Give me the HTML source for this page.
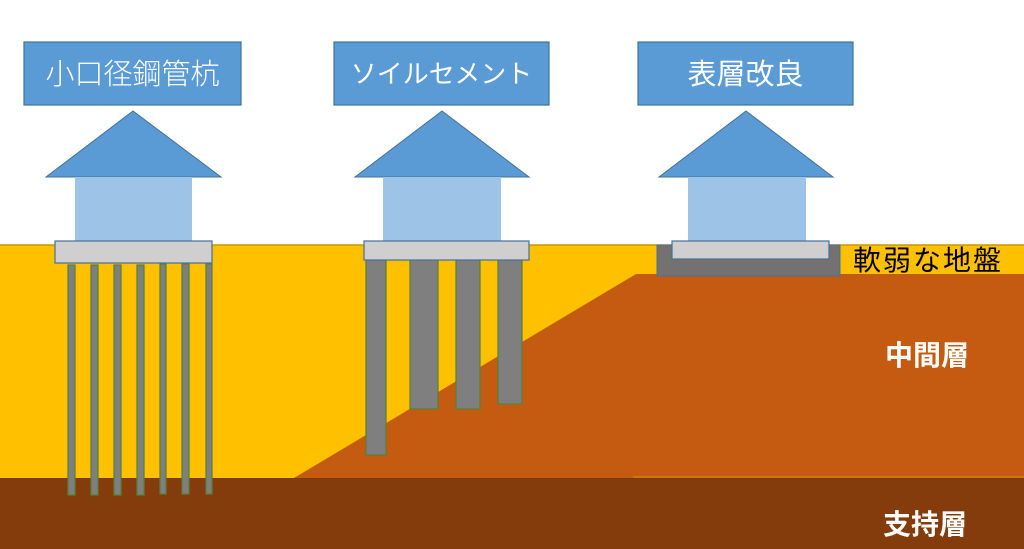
<!DOCTYPE html>
<html><head><meta charset="utf-8"><style>
html,body{margin:0;padding:0;background:#fff;}
svg{display:block;}
text{font-family:"Liberation Sans","Noto Sans CJK JP",sans-serif;}
</style></head><body>
<svg width="1024" height="549" viewBox="0 0 1024 549" xmlns="http://www.w3.org/2000/svg">
<rect x="0" y="0" width="1024" height="549" fill="#fff"/>
<rect x="0" y="245" width="1024" height="233" fill="#ffc000"/>
<line x1="0" y1="245" x2="1024" y2="245" stroke="#c99700" stroke-width="1.5"/>
<polygon points="294,478 636,274 1024,274 1024,478" fill="#c55a11"/>
<line x1="633" y1="477" x2="1024" y2="477" stroke="#e08a20" stroke-width="1"/>
<rect x="0" y="478" width="1024" height="71" fill="#843c0c"/>
<line x1="0" y1="478.5" x2="1024" y2="478.5" stroke="#7a3a0a" stroke-width="1"/>

<rect x="24" y="42" width="217" height="63" fill="#5b9bd5" stroke="#41719c" stroke-width="1.2"/>
<text x="132.5" y="84" font-size="29" fill="#fff" text-anchor="middle" font-weight="300">小口径鋼管杭</text>
<polygon points="133,111 46,177 221,177" fill="#5b9bd5" stroke="#41719c" stroke-width="1"/>
<rect x="75" y="177" width="117" height="64" fill="#9dc3e6"/>
<g fill="#7f7f7f" stroke="#548235" stroke-width="1.2">
<rect x="68" y="265" width="7" height="230"/>
<rect x="91" y="265" width="7" height="230"/>
<rect x="114" y="265" width="7" height="230"/>
<rect x="137" y="265" width="7" height="230"/>
<rect x="160" y="264" width="6" height="230"/>
<rect x="182" y="264" width="7" height="230"/>
<rect x="206" y="264" width="6" height="230"/>
</g>
<rect x="55" y="241" width="157" height="22" fill="#d0cece" stroke="#41719c" stroke-width="1.2"/>

<rect x="334" y="42" width="215" height="63" fill="#5b9bd5" stroke="#41719c" stroke-width="1.2"/>
<text x="441.5" y="83" font-size="26" fill="#fff" text-anchor="middle">ソイルセメント</text>
<polygon points="442,111 355,177 529,177" fill="#5b9bd5" stroke="#41719c" stroke-width="1"/>
<rect x="383" y="177" width="118" height="64" fill="#9dc3e6"/>
<g fill="#7f7f7f" stroke="#548235" stroke-width="1.2">
<rect x="366" y="260" width="20" height="195"/>
<rect x="410" y="260" width="28" height="149"/>
<rect x="456" y="260" width="24" height="149"/>
<rect x="498" y="260" width="24" height="144"/>
</g>
<rect x="364" y="241" width="165" height="19" fill="#d0cece" stroke="#41719c" stroke-width="1.2"/>

<rect x="638" y="42" width="215" height="63" fill="#5b9bd5" stroke="#41719c" stroke-width="1.2"/>
<text x="745.5" y="84" font-size="29" fill="#fff" text-anchor="middle">表層改良</text>
<polygon points="746,111 659,177 833,177" fill="#5b9bd5" stroke="#41719c" stroke-width="1"/>
<rect x="688" y="177" width="118" height="64" fill="#9dc3e6"/>
<rect x="657" y="245" width="183" height="31" fill="#767171" stroke="#41719c" stroke-width="1"/>
<rect x="672" y="241" width="157" height="18" fill="#d0cece" stroke="#41719c" stroke-width="1.2"/>

<text x="853" y="270" font-size="28" fill="#000" textLength="148" lengthAdjust="spacing">軟弱な地盤</text>
<text x="927" y="365" font-size="28" font-weight="bold" fill="#fff" text-anchor="middle">中間層</text>
<text x="925" y="534" font-size="28" font-weight="bold" fill="#fff" text-anchor="middle">支持層</text>
</svg>
</body></html>
